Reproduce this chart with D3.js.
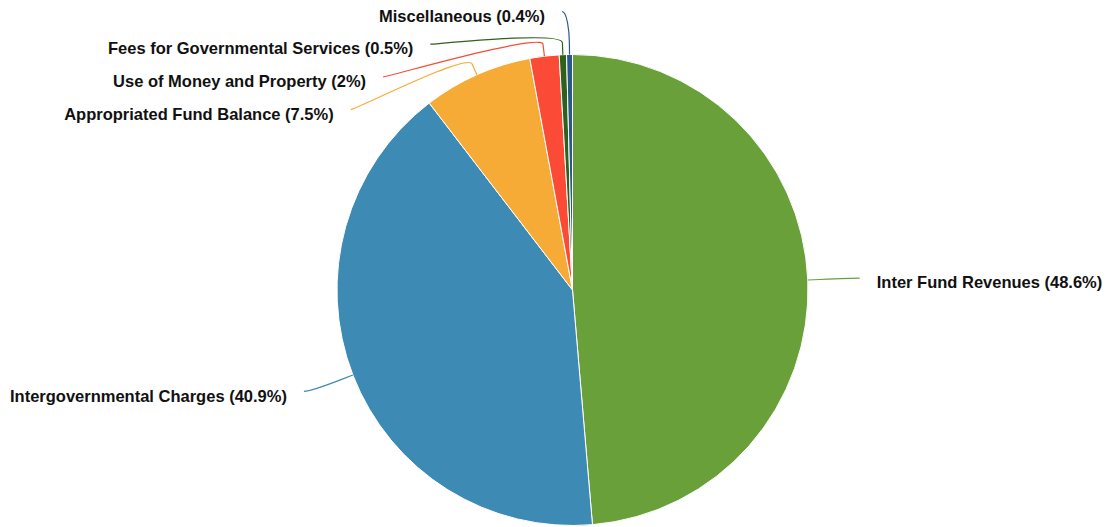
<!DOCTYPE html>
<html>
<head>
<meta charset="utf-8">
<script src="https://cdn.jsdelivr.net/npm/d3@7/dist/d3.min.js"></script>
<style>
  html, body { margin: 0; padding: 0; background: #fff; }
  svg { display: block; }
  text { font-family: "Liberation Sans", Arial, Helvetica, sans-serif; font-weight: bold; }
</style>
</head>
<body>
<svg id="chart" width="1108" height="527"></svg>
<script>
// Revenue sources, in percent of the total
const categories = [
  "Inter Fund Revenues",
  "Intergovernmental Charges",
  "Appropriated Fund Balance",
  "Use of Money and Property",
  "Fees for Governmental Services",
  "Miscellaneous"
];
const values = [48.6, 40.9, 7.5, 2, 0.5, 0.4];
const labels = ["48.6%", "40.9%", "7.5%", "2%", "0.5%", "0.4%"];
const colors = ["#6aa03a", "#3d8ab5", "#f7ab37", "#fb4a36", "#2e611c", "#2a5986"];

const W = 1108, H = 527;
const cx = 572.5, cy = 290, r = 235.5;
const labelDistance = 45;   // label ring distance from the pie edge
const R2 = r + labelDistance;
const padding = 7;          // offset of the connector start from the ring
const breakOffset = 12;     // where connectors bend before touching a slice
const textGap = 17;         // gap between connector start and label text
const spacing = 32.7;       // minimum vertical gap between stacked labels
const topBound = cy - R2 + 2;

const svg = d3.select("#chart");
const data = categories.map((c, i) => ({ name: c, value: values[i], label: labels[i], color: colors[i] }));

const pie = d3.pie().sort(null).value(d => d.value).startAngle(0).endAngle(2 * Math.PI);
const arcs = pie(data);
const arcGen = d3.arc().innerRadius(0).outerRadius(r);

const g = svg.append("g").attr("transform", `translate(${cx},${cy})`);
g.selectAll("path.slice")
  .data(arcs)
  .join("path")
  .attr("class", "slice")
  .attr("d", arcGen)
  .attr("fill", d => d.data.color)
  .attr("stroke", "#fff")
  .attr("stroke-width", 1)
  .attr("stroke-linejoin", "round");

// Label geometry
const pts = arcs.map(a => {
  const mid = (a.startAngle + a.endAngle) / 2;
  const ux = Math.sin(mid), uy = -Math.cos(mid);
  return {
    a, mid, ux, uy,
    left: ux < 0,
    tx: cx + r * ux, ty: cy + r * uy,
    bx: cx + (r + breakOffset) * ux, by: cy + (r + breakOffset) * uy,
    naturalY: cy + R2 * uy
  };
});

function getX(y, left) {
  const dy = Math.max(-R2, Math.min(R2, y - cy));
  const dx = Math.sqrt(R2 * R2 - dy * dy);
  return cx + (left ? -1 : 1) * (dx + padding);
}

[true, false].forEach(side => {
  const group = pts.filter(p => p.left === side).sort((p, q) => p.naturalY - q.naturalY);
  let prev = -Infinity;
  group.forEach(p => {
    p.y = Math.max(p.naturalY, topBound, prev + spacing);
    prev = p.y;
    const yForX = (p.y <= topBound + 1 || p.y > cy + R2 - 2) ? p.naturalY : p.y;
    p.x = getX(yForX, p.left);
  });
});

// Connectors
g.append("g").attr("transform", `translate(${-cx},${-cy})`)
  .selectAll("path.connector")
  .data(pts)
  .join("path")
  .attr("class", "connector")
  .attr("fill", "none")
  .attr("stroke", p => p.a.data.color)
  .attr("stroke-width", 1.2)
  .attr("d", p => {
    const path = d3.path();
    path.moveTo(p.x, p.y);
    path.bezierCurveTo(p.x + (p.left ? 5 : -5), p.y,
      2 * p.bx - p.tx, 2 * p.by - p.ty,
      p.bx, p.by);
    path.lineTo(p.tx, p.ty);
    return path.toString();
  });

// Labels
svg.append("g")
  .selectAll("text")
  .data(pts)
  .join("text")
  .attr("x", p => p.left ? p.x - textGap : p.x + textGap)
  .attr("y", p => p.y + 4.5)
  .attr("dy", "0.35em")
  .attr("text-anchor", p => p.left ? "end" : "start")
  .attr("font-size", "16.5px")
  .attr("fill", "#111")
  .text(p => `${p.a.data.name} (${p.a.data.label})`);
</script>
</body>
</html>
